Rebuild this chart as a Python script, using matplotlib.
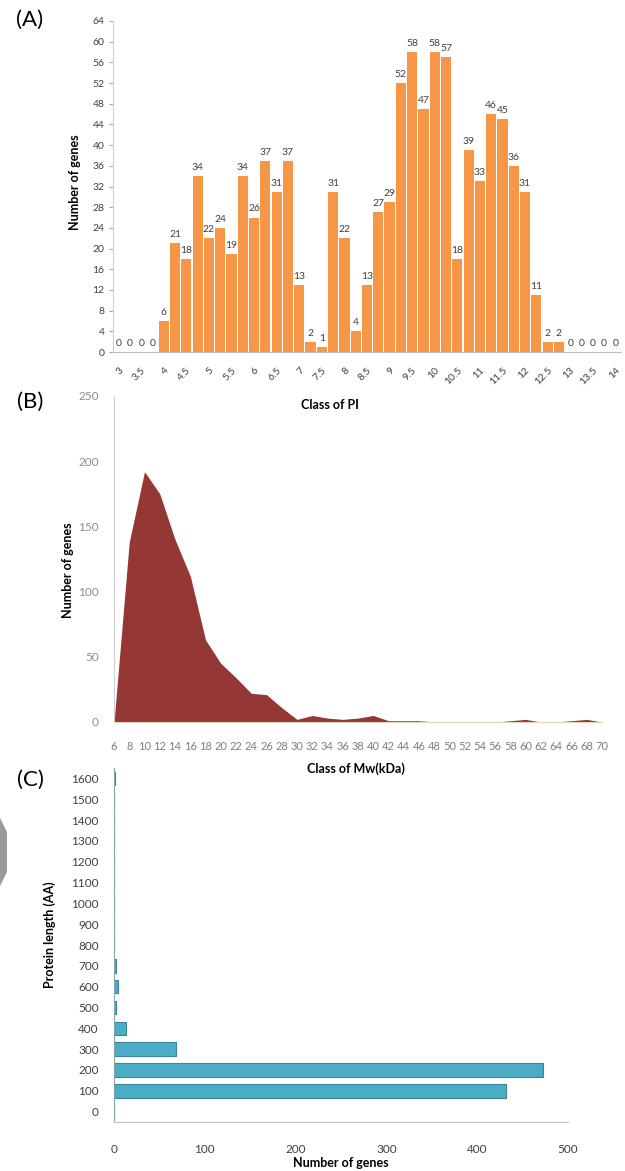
import numpy as np
from matplotlib import pyplot as plt
from matplotlib.patches import Polygon

plt.rcParams['font.family'] = ['Lato', 'DejaVu Sans']

# (A) PI classes, 3 to 14 in steps of 0.25
pi_labels = ['3', '3.5', '4', '4.5', '5', '5.5', '6', '6.5', '7', '7.5', '8', '8.5',
             '9', '9.5', '10', '10.5', '11', '11.5', '12', '12.5', '13', '13.5', '14']
pi_counts = [0, 0, 0, 0, 6, 21, 18, 34, 22, 24, 19, 34, 26, 37, 31, 37, 13, 2, 1,
             31, 22, 4, 13, 27, 29, 52, 58, 47, 58, 57, 18, 39, 33, 46, 45, 36, 31,
             11, 2, 2, 0, 0, 0, 0, 0]

# (B) Mw classes, 6 to 70 kDa
mw_classes = list(range(6, 72, 2))
mw_counts = [0, 138, 192, 175, 140, 112, 63, 45, 34, 22, 21, 11, 2, 5, 3, 2, 3, 5,
             1, 1, 1, 0, 0, 0, 0, 0, 1, 2, 0, 0, 1, 2, 0]

# (C) protein length classes
len_classes = ['0', '100', '200', '300', '400', '500', '600', '700', '800', '900',
               '1000', '1100', '1200', '1300', '1400', '1500', '1600']
len_counts = [0, 432, 473, 68, 13, 2, 4, 2, 0, 0, 0, 0, 0, 0, 0, 0, 1]

W, H = 625, 1171
fig = plt.figure(figsize=(W / 100, H / 100), dpi=100)

def box(l, t, r, b):
    return [l / W, 1 - b / H, (r - l) / W, (b - t) / H]

dark = '#404040'
grey = '#a6a6a6'

# ---- (A)
ax = fig.add_axes(box(113, 21, 621, 352))
idx = np.arange(len(pi_counts))
ax.bar(idx, pi_counts, width=0.9, color='#f79646', edgecolor='none')
for i, v in enumerate(pi_counts):
    ax.text(i, v + 0.8, str(v), ha='center', va='bottom', fontsize=7.5, color=dark)
ax.set_xlim(-0.5, len(pi_counts) - 0.5)
ax.set_ylim(0, 64)
ax.set_yticks(range(0, 65, 4))
ax.set_xticks(idx[::2])
ax.set_xticklabels(pi_labels, rotation=45, ha='right', va='top', rotation_mode='anchor')
ax.tick_params(axis='x', length=0, labelsize=7.5, labelcolor=dark, pad=10)
ax.tick_params(axis='y', length=3, color=grey, labelsize=7.5, labelcolor=dark, pad=3)
for s in ['top', 'right']:
    ax.spines[s].set_visible(False)
ax.spines['left'].set_color('#d0d0d0')
ax.spines['bottom'].set_color('#bfbfbf')
fig.text(75 / W, 1 - 182 / H, 'Number of genes', rotation=90, ha='center', va='center',
         fontsize=9, fontweight='bold')
fig.text(330 / W, 1 - 405 / H, 'Class of PI', ha='center', va='center',
         fontsize=9, fontweight='bold')
fig.text(30 / W, 1 - 20 / H, '(A)', ha='center', va='center', fontsize=16)

# ---- (B)
ax = fig.add_axes(box(114, 396, 602, 722))
ax.fill_between(mw_classes, mw_counts, 0, color='#953735', linewidth=0)
ax.set_xlim(6, 70)
ax.set_ylim(0, 250)
ax.set_xticks(mw_classes)
ax.set_yticks(range(0, 251, 50))
ax.tick_params(axis='x', length=0, labelsize=8, labelcolor='#7f7f7f', pad=14)
ax.tick_params(axis='y', length=0, labelsize=8.5, labelcolor='#8c8c8c', pad=11)
for s in ['top', 'right']:
    ax.spines[s].set_visible(False)
ax.spines['left'].set_color('#d0d0d0')
ax.spines['bottom'].set_color('#ddd6b8')
fig.text(68 / W, 1 - 570 / H, 'Number of genes', rotation=90, ha='center', va='center',
         fontsize=9, fontweight='bold')
fig.text(356 / W, 1 - 769 / H, 'Class of Mw(kDa)', ha='center', va='center',
         fontsize=9, fontweight='bold')
fig.text(30 / W, 1 - 402 / H, '(B)', ha='center', va='center', fontsize=16)

# ---- (C)
ax = fig.add_axes(box(114, 768, 568, 1122))
pos = np.arange(len(len_counts))
ax.barh(pos, len_counts, height=0.65, color='#4bacc6', edgecolor='#3b8599', linewidth=0.8)
ax.set_ylim(-0.5, len(len_counts) - 0.5)
ax.set_xlim(0, 500)
ax.set_yticks(pos)
ax.set_yticklabels(len_classes)
ax.set_xticks(range(0, 501, 100))
ax.tick_params(axis='x', length=0, labelsize=8.5, labelcolor=dark, pad=16)
ax.tick_params(axis='y', length=0, labelsize=8.5, labelcolor=dark, pad=11)
for s in ['top', 'right']:
    ax.spines[s].set_visible(False)
ax.spines['left'].set_color('#86a4ac')
ax.spines['bottom'].set_color('#bfbfbf')
fig.text(50 / W, 1 - 935 / H, 'Protein length (AA)', rotation=90, ha='center', va='center',
         fontsize=9, fontweight='bold')
fig.text(341 / W, 1 - 1163 / H, 'Number of genes', ha='center', va='center',
         fontsize=9, fontweight='bold')
fig.text(30 / W, 1 - 780 / H, '(C)', ha='center', va='center', fontsize=16)

# grey shape at the left edge
fig.patches.append(Polygon([(0, 1 - 818 / H), (7 / W, 1 - 832 / H), (7 / W, 1 - 872 / H),
                            (0, 1 - 886 / H)], closed=True, transform=fig.transFigure,
                           facecolor='#9a9a9a', edgecolor='none'))

fig.savefig('out.png', dpi=100)
